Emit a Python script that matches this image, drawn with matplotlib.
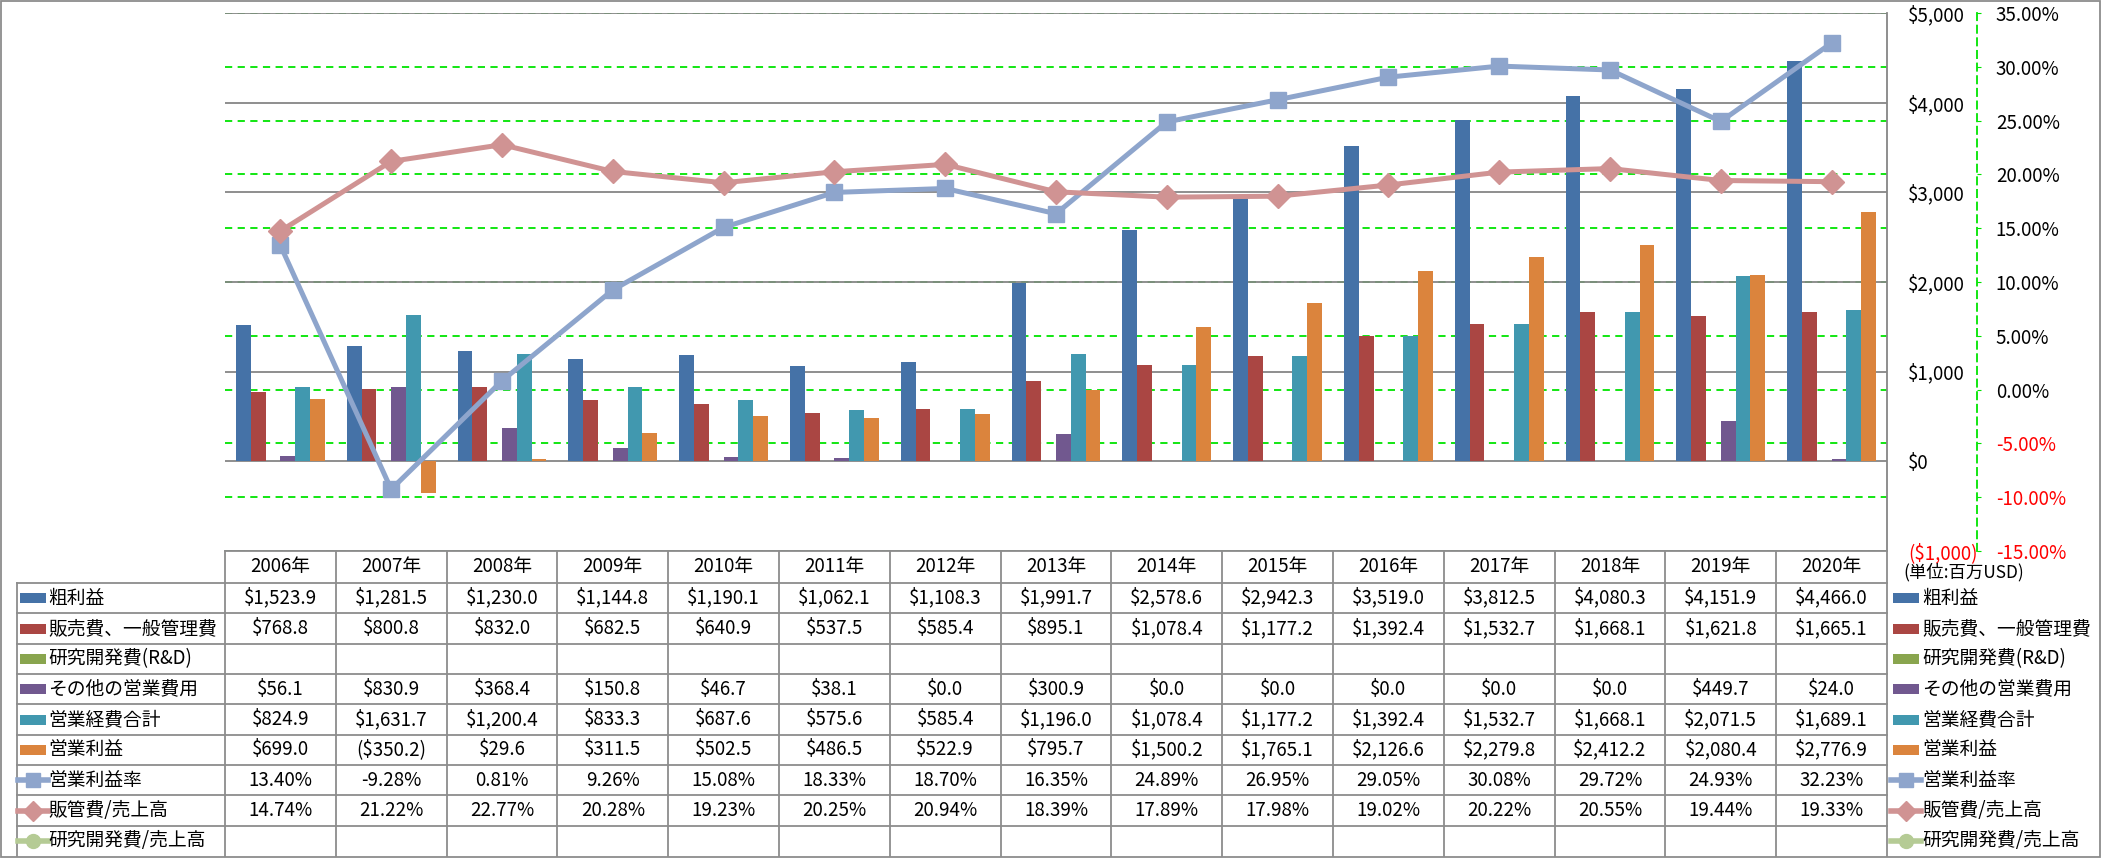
import numpy as np
import matplotlib
matplotlib.use("Agg")
import matplotlib.pyplot as plt
from matplotlib.patches import Rectangle

plt.rcParams['font.family'] = ['Noto Sans CJK JP', 'DejaVu Sans']

years = ['2006年', '2007年', '2008年', '2009年', '2010年', '2011年', '2012年', '2013年',
         '2014年', '2015年', '2016年', '2017年', '2018年', '2019年', '2020年']
nan = np.nan
gross = [1523.9, 1281.5, 1230.0, 1144.8, 1190.1, 1062.1, 1108.3, 1991.7,
         2578.6, 2942.3, 3519.0, 3812.5, 4080.3, 4151.9, 4466.0]
sga = [768.8, 800.8, 832.0, 682.5, 640.9, 537.5, 585.4, 895.1,
       1078.4, 1177.2, 1392.4, 1532.7, 1668.1, 1621.8, 1665.1]
rnd = [nan] * 15
other = [56.1, 830.9, 368.4, 150.8, 46.7, 38.1, 0.0, 300.9,
         0.0, 0.0, 0.0, 0.0, 0.0, 449.7, 24.0]
opex = [824.9, 1631.7, 1200.4, 833.3, 687.6, 575.6, 585.4, 1196.0,
        1078.4, 1177.2, 1392.4, 1532.7, 1668.1, 2071.5, 1689.1]
opinc = [699.0, -350.2, 29.6, 311.5, 502.5, 486.5, 522.9, 795.7,
         1500.2, 1765.1, 2126.6, 2279.8, 2412.2, 2080.4, 2776.9]
opm = [13.40, -9.28, 0.81, 9.26, 15.08, 18.33, 18.70, 16.35,
       24.89, 26.95, 29.05, 30.08, 29.72, 24.93, 32.23]
sga_ratio = [14.74, 21.22, 22.77, 20.28, 19.23, 20.25, 20.94, 18.39,
             17.89, 17.98, 19.02, 20.22, 20.55, 19.44, 19.33]
rnd_ratio = [nan] * 15

usd_ticks = [-1000, 0, 1000, 2000, 3000, 4000, 5000]
usd_labels = ['($1,000)', '$0', '$1,000', '$2,000', '$3,000', '$4,000', '$5,000']
pct_ticks = [-15, -10, -5, 0, 5, 10, 15, 20, 25, 30, 35]

bar_names = ['粗利益', '販売費、一般管理費', '研究開発費(R&D)', 'その他の営業費用', '営業経費合計', '営業利益']
bar_data = [gross, sga, rnd, other, opex, opinc]
bar_colors = ['#4572A7', '#AA4643', '#89A54E', '#71588F', '#4198AF', '#DB843D']
line_names = ['営業利益率', '販管費/売上高', '研究開発費/売上高']
line_data = [opm, sga_ratio, rnd_ratio]
line_colors = ['#8EA5CC', '#D09393', '#B5CB95']
line_markers = ['s', 'D', 'o']

W, H = 2101, 858
fig = plt.figure(figsize=(W / 100, H / 100), dpi=100)

# plot area in pixels
L, R, T, B = 225, 1887, 13.2, 550.8
rect = [L / W, (H - B) / H, (R - L) / W, (B - T) / H]
ax = fig.add_axes(rect)
axg = ax.twinx()
ax2 = ax.twinx()
axg.set_zorder(0)
ax.set_zorder(1)
ax2.set_zorder(2)
ax.patch.set_visible(False)

n = len(years)
x = np.arange(n)
w = 0.8 / 6
for i, (d, c) in enumerate(zip(bar_data, bar_colors)):
    ax.bar(x + (i - 2.5) * w, d, w, color=c, zorder=3)

ax.set_xlim(-0.5, n - 0.5)
ax.set_ylim(-1000, 5000)
ax.yaxis.tick_right()
ax.tick_params(axis='y', length=0, pad=15, labelsize=13.5)
ax.set_yticks(usd_ticks)
ax.set_yticklabels(usd_labels)
ax.set_xticks([])
ax.grid(axis='y', color='#868686', linewidth=1.3)
ax.set_axisbelow(True)
for s in ['left', 'top', 'bottom']:
    ax.spines[s].set_visible(False)
ax.spines['right'].set_color('#868686')
ax.spines['right'].set_linewidth(1.3)

# green percentage gridlines, kept under the bars
axg.set_ylim(-15, 35)
axg.set_yticks(pct_ticks)
axg.grid(axis='y', color='#00E400', linestyle=(0, (4, 3)), linewidth=1.3)
axg.tick_params(axis='y', length=0, labelright=False)
for s in axg.spines.values():
    s.set_visible(False)

for d, c, m in zip(line_data, line_colors, line_markers):
    ax2.plot(x, d, color=c, linewidth=3.6, marker=m, markersize=12,
             markerfacecolor=c, markeredgecolor=c, solid_capstyle='round')
ax2.set_ylim(-15, 35)
for s in ['left', 'top', 'bottom']:
    ax2.spines[s].set_visible(False)
ax2.spines['right'].set_position(('outward', 90 * 0.72))
ax2.spines['right'].set_color('#00E400')
ax2.spines['right'].set_linestyle((0, (4, 3)))
ax2.spines['right'].set_linewidth(1.3)
ax2.tick_params(axis='y', direction='out', length=3, color='#00E400', pad=10.5, labelsize=13.5)
ax2.set_yticks(pct_ticks)
ax2.set_yticklabels([f'{v:.2f}%' for v in pct_ticks])

# negative labels in red
for a, ticks in [(ax, usd_ticks), (ax2, pct_ticks)]:
    for tk, v in zip(a.yaxis.get_major_ticks(), ticks):
        if v < 0:
            tk.label1.set_color('red')
            tk.label2.set_color('red')

# data table underneath
axT = fig.add_axes([0, 0, 1, 1], zorder=5)
axT.set_xlim(0, W)
axT.set_ylim(H, 0)
axT.axis('off')

gc = '#8C8C8C'
col_w = (R - L) / n
head_top, head_bot = B, 583
row_h = (H - 2 - head_bot) / 9
tl = 16.5

axT.plot([L, R], [head_top, head_top], color=gc, lw=1.3)
for k in range(9):
    yy = head_bot + k * row_h
    axT.plot([tl, R], [yy, yy], color=gc, lw=1.3)
axT.plot([tl, tl], [head_bot, H - 2], color=gc, lw=1.3)
for j in range(n + 1):
    xx = L + j * col_w
    axT.plot([xx, xx], [head_top, H - 2], color=gc, lw=1.3)

for j, yl in enumerate(years):
    axT.text(L + (j + 0.5) * col_w, (head_top + head_bot) / 2, yl,
             ha='center', va='center', fontsize=13.5)


def money(v):
    if np.isnan(v):
        return ''
    if v < 0:
        return f'(${-v:,.1f})'
    return f'${v:,.1f}'


def pct(v):
    if np.isnan(v):
        return ''
    return f'{v:.2f}%'


rows = [(nm, d, money) for nm, d in zip(bar_names, bar_data)] + \
       [(nm, d, pct) for nm, d in zip(line_names, line_data)]
for k, (nm, d, fmt) in enumerate(rows):
    yc = head_bot + (k + 0.5) * row_h
    for j, v in enumerate(d):
        axT.text(L + (j + 0.5) * col_w, yc, fmt(v), ha='center', va='center', fontsize=13.5)
    for x0, tx in [(20, 48), (1893, 1922)]:
        if k < 6:
            axT.add_patch(Rectangle((x0, yc - 5), 26, 10, color=bar_colors[k], lw=0))
        else:
            c = line_colors[k - 6]
            axT.plot([x0 - 2, x0 + 28], [yc, yc], color=c, lw=4)
            axT.plot([x0 + 13], [yc], marker=line_markers[k - 6], color=c, markersize=10)
        axT.text(tx, yc, nm, ha='left', va='center', fontsize=13.5)

axT.text(1903, 572, '(単位:百万USD)', ha='left', va='center', fontsize=12.5)

# outer frame
fig.patches.append(Rectangle((0.5 / W, 1 / H), (W - 2) / W, (H - 2) / H,
                             transform=fig.transFigure, fill=False, edgecolor=gc, lw=1.3))

fig.savefig('out.png', dpi=100)
